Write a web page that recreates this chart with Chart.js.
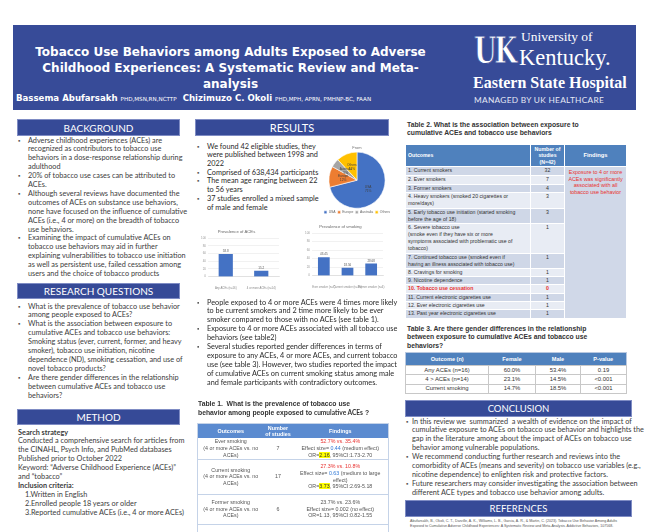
<!DOCTYPE html>
<html>
<head>
<meta charset="utf-8">
<script src="https://cdn.jsdelivr.net/npm/chart.js@4"></script>
<style>
  html, body { margin: 0; padding: 0; background: #fff; }
  #poster { position: relative; width: 650px; height: 532px; overflow: hidden; font-family: Lato, sans-serif; }
  .abs { position: absolute; }
  .band { position: absolute; background: #364a97; color: #fff; text-align: center; font-family: Lato, sans-serif; border: 0.6px solid #7f8cc4; box-sizing: border-box; }
  .txt { position: absolute; font-size: 7.3px; line-height: 8.9px; color: #3c3c3c; white-space: nowrap; }
  .txt .b { position: relative; padding-left: 10px; }
  .txt .b::before { content: "\25AA"; position: absolute; left: 0; color: #555; font-size: 6px; }
  canvas { position: absolute; }
  table { border-collapse: collapse; table-layout: fixed; font-family: "Liberation Sans", Arial, sans-serif; }
  .t1 { width: 191px; font-size: 5.3px; line-height: 6.6px; color: #555; border: 0.6px solid #c5d3e8; }
  .t1 th { background: #5b8bd0; color: #fff; font-weight: bold; font-size: 5.4px; line-height: 6px; }
  .t1 td { text-align: center; border-bottom: 0.6px solid #c5d3e8; padding: 0; }
  .red { color: #e8312f; }
  .blu { color: #2f78d6; }
  .hl { background: #ffff00; color: #333; }
  .t2 { width: 221px; font-size: 5.2px; line-height: 7.1px; color: #333; }
  .t2 th { background: #4f81bd; color: #fff; font-weight: bold; font-size: 5.2px; line-height: 6.4px; border: 0.8px solid #fff; }
  .t2 td { border: 0.8px solid #fff; padding: 0 0 0 2px; vertical-align: top; text-align: left; }
  .t2 td.n { text-align: center; padding: 0; }
  .t2 tr:nth-child(even) td { background: #cfd7e7; }
  .t2 tr:nth-child(odd) td { background: #e8ecf4; }
  .t2 td.f { background: #d0d8e8 !important; color: #e8312f; text-align: center; padding: 2px 0 0 0; font-size: 5.4px; line-height: 6.6px; }
  .t3 { width: 221px; font-size: 5.9px; line-height: 7px; color: #333; border: 0.6px solid #b8c8e0; }
  .t3 th { background: #4f81bd; color: #fff; font-weight: bold; font-size: 5.6px; }
  .t3 td { text-align: center; border: 0.5px solid #c8c8c8; padding: 0; }
  .ttl { position: absolute; font-family: "Liberation Sans", Arial, sans-serif; font-weight: bold; font-size: 6.8px; line-height: 8.8px; color: #333; white-space: nowrap; }
</style>
</head>
<body>
<div id="poster">

  <!-- header -->
  <div class="abs" style="left:13px;top:25px;width:623px;height:85px;background:#374b98;"></div>
  <div class="abs" style="left:13px;top:44px;width:435px;text-align:center;color:#fff;font-family:'DejaVu Sans';font-weight:bold;font-size:12px;line-height:16px;">
    Tobacco Use Behaviors among Adults Exposed to Adverse<br>Childhood Experiences: A Systematic Review and Meta-<br>analysis
  </div>
  <div class="abs" style="left:16px;top:93px;color:#fff;font-family:'DejaVu Sans';white-space:nowrap;font-size:8.6px;font-weight:bold;">
    Bassema Abufarsakh <span style="font-weight:normal;font-size:5.6px;">PHD,MSN,RN,NCTTP</span>&nbsp; Chizimuzo C. Okoli <span style="font-weight:normal;font-size:5.6px;">PHD,MPH, APRN, PMHNP-BC, FAAN</span>
  </div>
  <div class="abs" style="left:474px;top:30px;color:#fff;font-family:'DejaVu Serif';font-weight:bold;font-size:37px;line-height:40px;transform:scaleX(0.7);transform-origin:left;letter-spacing:-3px;-webkit-text-stroke:0.8px #374b98;">UK</div>
  <div class="abs" style="left:521px;top:30px;color:#fff;font-family:'Liberation Serif';font-size:13.5px;line-height:13px;white-space:nowrap;">University of</div>
  <div class="abs" style="left:519px;top:48px;color:#fff;font-family:'Liberation Serif';font-size:22.5px;line-height:20px;white-space:nowrap;">Kentucky.</div>
  <div class="abs" style="left:473px;top:74px;color:#fff;font-family:'Liberation Serif';font-weight:bold;font-size:16px;line-height:18px;white-space:nowrap;">Eastern State Hospital</div>
  <div class="abs" style="left:474px;top:95px;color:#e4e8f4;font-family:Lato;font-size:8.3px;line-height:10px;letter-spacing:0.3px;white-space:nowrap;">MANAGED BY UK HEALTHCARE</div>

  <!-- left column -->
  <div class="band" style="left:17px;top:119px;width:163px;height:17px;font-size:10px;line-height:16px;">BACKGROUND</div>
  <div class="txt" style="left:18px;top:136.5px;">
    <div class="b">Adverse childhood experiences (ACEs) are<br>recognized as contributors to tobacco use<br>behaviors in a dose-response relationship during<br>adulthood</div>
    <div class="b">20% of tobacco use cases can be attributed to<br>ACEs.</div>
    <div class="b">Although several reviews have documented the<br>outcomes of ACEs on substance use behaviors,<br>none have focused on the influence of cumulative<br>ACEs (i.e., 4 or more) on the breadth of tobacco<br>use behaviors.</div>
    <div class="b">Examining the impact of cumulative ACEs on<br>tobacco use behaviors may aid in further<br>explaining vulnerabilities to tobacco use initiation<br>as well as persistent use, failed cessation among<br>users and the choice of tobacco products</div>
  </div>

  <div class="band" style="left:17px;top:283px;width:163px;height:16px;font-size:10px;line-height:15px;">RESEARCH QUESTIONS</div>
  <div class="txt" style="left:18px;top:302.5px;">
    <div class="b">What is the prevalence of tobacco use behavior<br>among people exposed to ACEs?</div>
    <div class="b">What is the association between exposure to<br>cumulative ACEs and tobacco use behaviors:<br>Smoking status (ever, current, former, and heavy<br>smoker), tobacco use initiation, nicotine<br>dependence (ND), smoking cessation, and use of<br>novel tobacco products?</div>
    <div class="b">Are there gender differences in the relationship<br>between cumulative ACEs and tobacco use<br>behaviors?</div>
  </div>

  <div class="band" style="left:17px;top:409px;width:163px;height:16px;font-size:10px;line-height:15px;">METHOD</div>
  <div class="txt" style="left:18px;top:428.5px;">
    <b>Search strategy</b><br>
    Conducted a comprehensive search for articles from<br>the CINAHL, Psych Info, and PubMed databases<br>Published prior to October 2022<br>Keyword: “Adverse Childhood Experience (ACEs)”<br>and “tobacco”<br>
    <b>Inclusion criteria:</b><br>
    <div style="padding-left:7px;">1.Written in English<br>2.Enrolled people 18 years or older<br>3.Reported cumulative ACEs (i.e., 4 or more ACEs)</div>
  </div>

  <!-- middle column -->
  <div class="band" style="left:195px;top:119px;width:194px;height:17px;font-size:11px;line-height:16px;">RESULTS</div>
  <div class="txt" style="left:197px;top:142.6px;line-height:8.7px;color:#2a2a2a;">
    <div class="b">We found 42 eligible studies, they<br>were published between 1998 and<br>2022</div>
    <div class="b">Comprised of 638,434 participants</div>
    <div class="b">The mean age ranging between 22<br>to 56 years</div>
    <div class="b">37 studies enrolled a mixed sample<br>of male and female</div>
  </div>

  <canvas id="originChart" width="80" height="86" style="left:317px;top:142px;"></canvas>
  <canvas id="aceChart" width="92" height="68" style="left:192px;top:226px;"></canvas>
  <canvas id="smokingChart" width="92" height="72" style="left:296px;top:221px;"></canvas>

  <div class="txt" style="left:197px;top:298.5px;color:#2a2a2a;">
    <div class="b">People exposed to 4 or more ACEs were 4 times more likely<br>to be current smokers and 2 time more likely to be ever<br>smoker compared to those with no ACEs (see table 1).</div>
    <div class="b">Exposure to 4 or more ACEs associated with all tobacco use<br>behaviors (see table2)</div>
    <div class="b">Several studies reported gender differences in terms of<br>exposure to any ACEs, 4 or more ACEs, and current tobacco<br>use (see table 3). However, two studies reported the impact<br>of cumulative ACEs on current smoking status among male<br>and female participants with contradictory outcomes.</div>
  </div>

  <div class="ttl" style="left:198px;top:399.5px;">Table 1.&nbsp; What is the prevalence of tobacco use<br>behavior among people exposed to <span style="font-family:Lato;font-size:6.6px;">cumulative ACEs</span> ?</div>
  <div class="abs" style="left:197px;top:423px;">
    <table class="t1">
      <colgroup><col style="width:66px"><col style="width:29px"><col style="width:96px"></colgroup>
      <tr style="height:14px"><th>Outcomes</th><th>Number<br>of studies</th><th>Findings</th></tr>
      <tr style="height:21px"><td>Ever smoking<br>(4 or more ACEs vs. no<br>ACEs)</td><td>7</td><td><span class="red">52.7% vs. 35.4%</span><br>Effect size= <span class="blu">0.44</span> (medium effect)<br>OR=<span class="hl">2.16</span>, 95%CI:1.73-2.70</td></tr>
      <tr style="height:35px"><td>Current smoking<br>(4 or more ACEs vs. no<br>ACEs)</td><td>17</td><td><span class="red">27.3% vs. 10.8%</span><br>Effect size= <span class="blu">0.63</span> (medium to large<br>effect)<br>OR=<span class="hl">3.73</span>, 95%CI:2.69-5.18</td></tr>
      <tr style="height:30px"><td>Former smoking<br>(4 or more ACEs vs. no<br>ACEs)</td><td>6</td><td>23.7% vs. 23.6%<br>Effect size= 0.002 (no effect)<br>OR=1.13, 95%CI:0.82-1.55</td></tr>
      <tr style="height:14px"><td></td><td></td><td></td></tr>
    </table>
  </div>

  <!-- right column -->
  <div class="ttl" style="left:407px;top:120.5px;">Table 2. What is the association between exposure to<br>cumulative ACEs and tobacco use behaviors</div>
  <div class="abs" style="left:405px;top:144px;">
    <table class="t2">
      <colgroup><col style="width:125px"><col style="width:34px"><col style="width:62px"></colgroup>
      <tr style="height:21px"><th style="text-align:left;padding-left:2px;">Outcomes</th><th>Number of<br>studies<br>(N=42)</th><th style="font-size:5.8px;">Findings</th></tr>
      <tr style="height:9px"><td>1. Current smokers</td><td class="n">32</td><td class="f" rowspan="13">Exposure to 4 or more<br>ACEs was significantly<br>associated with all<br>tobacco use behavior</td></tr>
      <tr style="height:8.6px"><td>2. Ever smokers</td><td class="n">7</td></tr>
      <tr style="height:8.4px"><td>3. Former smokers</td><td class="n">4</td></tr>
      <tr style="height:15.6px"><td>4. Heavy smokers (smoked 20 cigarettes or<br>more/days)</td><td class="n">3</td></tr>
      <tr style="height:15.4px"><td>5. Early tobacco use initiation (started smoking<br>before the age of 18)</td><td class="n">3</td></tr>
      <tr style="height:29px"><td>6. Severe tobacco use<br>(smoke even if they have six or more<br>symptoms associated with problematic use of<br>tobacco)</td><td class="n">1</td></tr>
      <tr style="height:15px"><td>7. Continued tobacco use (smoked even if<br>having an illness associated with tobacco use)</td><td class="n">1</td></tr>
      <tr style="height:8.3px"><td>8. Cravings for smoking</td><td class="n">1</td></tr>
      <tr style="height:8.3px"><td>9. Nicotine dependence</td><td class="n">1</td></tr>
      <tr style="height:8.3px"><td style="color:#e8312f;font-weight:bold;">10. Tobacco use cessation</td><td class="n" style="color:#e8312f;font-weight:bold;">0</td></tr>
      <tr style="height:8.3px"><td>11. Current electronic cigarettes use</td><td class="n">1</td></tr>
      <tr style="height:8.3px"><td>12. Ever electronic cigarettes use</td><td class="n">1</td></tr>
      <tr style="height:8.4px"><td>13. Past year electronic cigarettes use</td><td class="n">1</td></tr>
    </table>
  </div>

  <div class="ttl" style="left:407px;top:324.5px;">Table 3. Are there gender differences in the relationship<br>between exposure to cumulative ACEs and tobacco use<br>behaviors?</div>
  <div class="abs" style="left:405px;top:352px;">
    <table class="t3">
      <colgroup><col style="width:83px"><col style="width:47px"><col style="width:45px"><col style="width:46px"></colgroup>
      <tr style="height:13px"><th>Outcome (n)</th><th>Female</th><th>Male</th><th>P-value</th></tr>
      <tr style="height:9.3px"><td>Any ACEs (n=16)</td><td>60.0%</td><td>53.4%</td><td>0.19</td></tr>
      <tr style="height:9.3px"><td>4 &gt; ACEs (n=14)</td><td>23.1%</td><td>14.5%</td><td>&lt;0.001</td></tr>
      <tr style="height:9.3px"><td>Current smoking</td><td>14.7%</td><td>18.5%</td><td>&lt;0.001</td></tr>
    </table>
  </div>

  <div class="band" style="left:405px;top:400px;width:227px;height:17px;font-size:9.5px;line-height:16px;">CONCLUSION</div>
  <div class="txt" style="left:406px;top:417.5px;">
    <div class="b" style="padding-left:6px;">In this review we&nbsp; summarized&nbsp; a wealth of evidence on the impact of<br>cumulative exposure to ACEs on tobacco use behavior and highlights the<br>gap in the literature among about the impact of ACEs on tobacco use<br>behavior among vulnerable populations.</div>
    <div class="b" style="padding-left:6px;">We recommend conducting further research and reviews into the<br>comorbidity of ACEs (means and severity) on tobacco use variables (e.g.,<br>nicotine dependence) to enlighten risk and protective factors.</div>
    <div class="b" style="padding-left:6px;">Future researchers may consider investigating the association between<br>different ACE types and tobacco use behavior among adults.</div>
  </div>
  <div class="band" style="left:405px;top:500px;width:227px;height:17px;font-size:9.5px;line-height:16px;">REFERENCES</div>
  <div class="abs" style="left:410px;top:519px;font-family:'Liberation Sans';font-size:3.6px;line-height:5px;color:#555;white-space:nowrap;">
    Abufarsakh, B., Okoli, C. T., Darville, A. K., Williams, L. B., Garcia, A. R., &amp; Martin, C. (2023). Tobacco Use Behavior Among Adults<br>Exposed to Cumulative Adverse Childhood Experiences: A Systematic Review and Meta-Analysis. Addictive Behaviors, 107568.
  </div>
</div>

<script>
const originLabels = ["USA", "Europe", "Australia", "Others"];
const originShare = [71, 12, 5, 12];
const originColors = ["#4472c4", "#ed7d31", "#a5a5a5", "#ffc000"];

const aceLabels = ["Any ACEs (n=16)", "4 or more ACEs (n=14)"];
const acePrevalence = [58.8, 15.2];

const smokingLabels = ["Ever smoker (n=7)", "Current smoker (n=16)", "Former smoker (n=6)"];
const smokingPrevalence = [43.45, 18.56, 28.68];

const percentTicks = [0, 20, 40, 60, 80, 100];

Chart.defaults.font.family = "'Liberation Sans', Arial, sans-serif";
Chart.defaults.animation = false;

// numbers above the bars
const valueLabels = {
  id: "valueLabels",
  afterDatasetsDraw(chart) {
    const ctx = chart.ctx;
    chart.data.datasets.forEach((ds, i) => {
      chart.getDatasetMeta(i).data.forEach((bar, j) => {
        ctx.save();
        ctx.font = "3px 'Liberation Sans'";
        ctx.fillStyle = "#555";
        ctx.textAlign = "center";
        ctx.textBaseline = "bottom";
        ctx.fillText(ds.data[j], bar.x, bar.y - 1);
        ctx.restore();
      });
    });
  },
};

// name + percent inside each slice
const sliceLabels = {
  id: "sliceLabels",
  afterDatasetsDraw(chart) {
    const ctx = chart.ctx;
    const ds = chart.data.datasets[0];
    chart.getDatasetMeta(0).data.forEach((arc, j) => {
      const p = arc.tooltipPosition();
      ctx.save();
      ctx.font = "3.2px 'Liberation Sans'";
      ctx.fillStyle = "#404040";
      ctx.textAlign = "center";
      ctx.textBaseline = "middle";
      ctx.fillText(chart.data.labels[j], p.x, p.y - 2);
      ctx.fillText(ds.data[j] + "%", p.x, p.y + 2);
      ctx.restore();
    });
  },
};

new Chart(document.getElementById("originChart"), {
  type: "pie",
  data: {
    labels: originLabels,
    datasets: [{ data: originShare, backgroundColor: originColors, borderColor: "#fff", borderWidth: 0.6, hoverOffset: 0 }],
  },
  options: {
    responsive: false,
    layout: { padding: { top: 0, bottom: 4, left: 0, right: 0 } },
    plugins: {
      title: { display: true, text: "From", font: { size: 4, weight: "normal" }, color: "#777", padding: { top: 3, bottom: 2 } },
      legend: { position: "bottom", labels: { font: { size: 3.4 }, boxWidth: 3, boxHeight: 3, padding: 2, color: "#666" } },
      tooltip: { enabled: false },
    },
  },
  plugins: [sliceLabels],
});

function barOptions(title) {
  return {
    responsive: false,
    layout: { padding: { left: 2, right: 5, top: 0, bottom: 2 } },
    plugins: {
      legend: { display: false },
      tooltip: { enabled: false },
      title: { display: true, text: title, font: { size: 4.2, weight: "normal" }, color: "#666", padding: { top: 3, bottom: 4 } },
    },
    scales: {
      y: {
        min: 0,
        max: 100,
        afterBuildTicks: (s) => { s.ticks = percentTicks.map((v) => ({ value: v })); },
        afterFit: (s) => { s.width = 14; },
        ticks: { font: { size: 3 }, color: "#999", padding: 2 },
        grid: { color: "#e2e2e2", lineWidth: 0.5, drawTicks: false },
        border: { display: false },
      },
      x: {
        ticks: { font: { size: 2.8 }, color: "#888", maxRotation: 0, autoSkip: false, padding: 2 },
        grid: { display: false },
        border: { color: "#d0d0d0", width: 0.5 },
      },
    },
  };
}

new Chart(document.getElementById("aceChart"), {
  type: "bar",
  data: {
    labels: aceLabels,
    datasets: [{ data: acePrevalence, backgroundColor: "#4472c4", barPercentage: 0.8, categoryPercentage: 0.5 }],
  },
  options: barOptions("Prevalence of ACEs"),
  plugins: [valueLabels],
});

new Chart(document.getElementById("smokingChart"), {
  type: "bar",
  data: {
    labels: smokingLabels,
    datasets: [{ data: smokingPrevalence, backgroundColor: "#4472c4", barPercentage: 0.8, categoryPercentage: 0.62 }],
  },
  options: barOptions("Prevalence of smoking"),
  plugins: [valueLabels],
});
</script>
</body>
</html>
